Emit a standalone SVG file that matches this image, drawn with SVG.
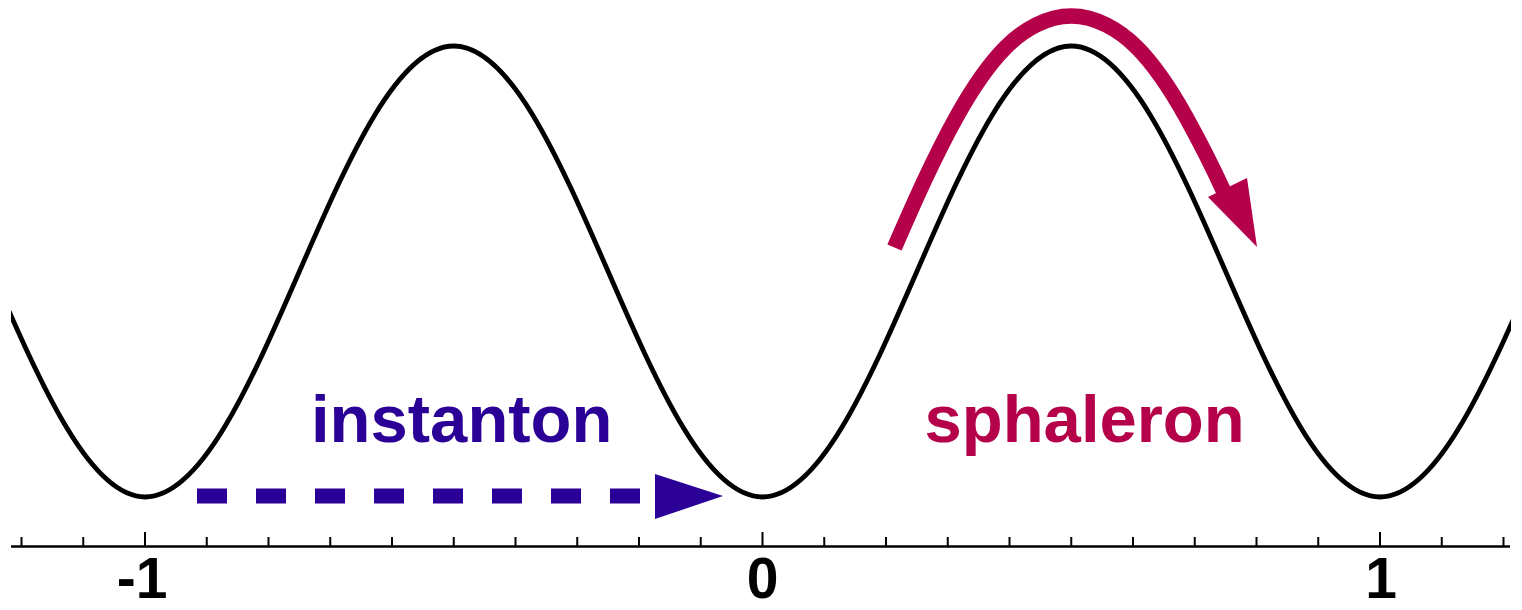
<svg xmlns="http://www.w3.org/2000/svg" width="1522" height="610" viewBox="0 0 1522 610">
<style>
.curve{fill:none;stroke:#000;stroke-width:4.8;stroke-linejoin:round}
.axis{stroke:#000;stroke-width:2.5;fill:none}
.tick{stroke:#000;stroke-width:2}
.num{font-family:"Liberation Sans",Arial,sans-serif;font-weight:bold;font-size:57px;text-anchor:middle;fill:#000}
.lbl{font-family:"Liberation Sans",Arial,sans-serif;font-weight:bold;font-size:67px}
</style>
<defs>
<clipPath id="clip"><rect x="11" y="0" width="1500" height="610"/></clipPath>
</defs>
<rect width="1522" height="610" fill="#fff"/>
<g id="potential">
<path class="curve" clip-path="url(#clip)" d="M-8.375,271.5 C41.975,387.02 90.125,497 145,497 C200.875,497 249.03,387.02 299.375,271.5 C349.725,155.98 397.875,46 453.75,46 C509.625,46 557.78,155.98 608.125,271.5 C658.475,387.02 706.625,497 762.5,497 C818.375,497 866.53,387.02 916.875,271.5 C967.225,155.98 1015.375,46 1071.25,46 C1127.125,46 1175.28,155.98 1225.625,271.5 C1275.975,387.02 1324.125,497 1380,497 C1435.875,497 1484.03,387.02 1534.375,271.5"/>
</g>
<g id="axis">
<line class="axis" x1="11" y1="546.5" x2="1510" y2="546.5"/>
<g class="tick">
<line x1="21.5" y1="537" x2="21.5" y2="546"/>
<line x1="83.25" y1="537" x2="83.25" y2="546"/>
<line x1="145" y1="532" x2="145" y2="546"/>
<line x1="206.75" y1="537" x2="206.75" y2="546"/>
<line x1="268.5" y1="537" x2="268.5" y2="546"/>
<line x1="330.25" y1="537" x2="330.25" y2="546"/>
<line x1="392" y1="537" x2="392" y2="546"/>
<line x1="453.75" y1="537" x2="453.75" y2="546"/>
<line x1="515.5" y1="537" x2="515.5" y2="546"/>
<line x1="577.25" y1="537" x2="577.25" y2="546"/>
<line x1="639" y1="537" x2="639" y2="546"/>
<line x1="700.75" y1="537" x2="700.75" y2="546"/>
<line x1="762.5" y1="532" x2="762.5" y2="546"/>
<line x1="824.25" y1="537" x2="824.25" y2="546"/>
<line x1="886" y1="537" x2="886" y2="546"/>
<line x1="947.75" y1="537" x2="947.75" y2="546"/>
<line x1="1009.5" y1="537" x2="1009.5" y2="546"/>
<line x1="1071.25" y1="537" x2="1071.25" y2="546"/>
<line x1="1133" y1="537" x2="1133" y2="546"/>
<line x1="1194.75" y1="537" x2="1194.75" y2="546"/>
<line x1="1256.5" y1="537" x2="1256.5" y2="546"/>
<line x1="1318.25" y1="537" x2="1318.25" y2="546"/>
<line x1="1380" y1="532" x2="1380" y2="546"/>
<line x1="1441.75" y1="537" x2="1441.75" y2="546"/>
<line x1="1503.5" y1="537" x2="1503.5" y2="546"/>
</g>
<text class="num" x="142" y="598">-1</text>
<text class="num" x="762.5" y="598">0</text>
<text class="num" x="1381" y="598">1</text>
</g>
<g id="instanton">
<text class="lbl" x="311" y="442" fill="#2A0096">instanton</text>
</g>
<g id="sphaleron">
<text class="lbl" x="924.5" y="442" fill="#B5004A">sphaleron</text>
</g>
<g id="connectors">
<line x1="197" y1="496" x2="641" y2="496" stroke="#2A0096" stroke-width="15" stroke-dasharray="30 29"/>
<polygon points="655,474 723,496 655,519" fill="#2A0096"/>
<path fill="none" stroke="#B5004A" stroke-width="15.5" d="M894.5,247.5 C913.7,203.5 933.3,158.6 956.6,116.7 C970.5,91.7 985.6,67.4 1005.8,47.2 C1023.1,29.9 1046.75,16 1071.25,16 C1095.75,16 1119.4,29.9 1136.7,47.2 C1156.9,67.4 1172,91.7 1185.9,116.7 C1199.5,141.2 1212.4,166.5 1224,192"/>
<polygon points="1208,197 1247,178 1257,247" fill="#B5004A"/>
</g>
</svg>
